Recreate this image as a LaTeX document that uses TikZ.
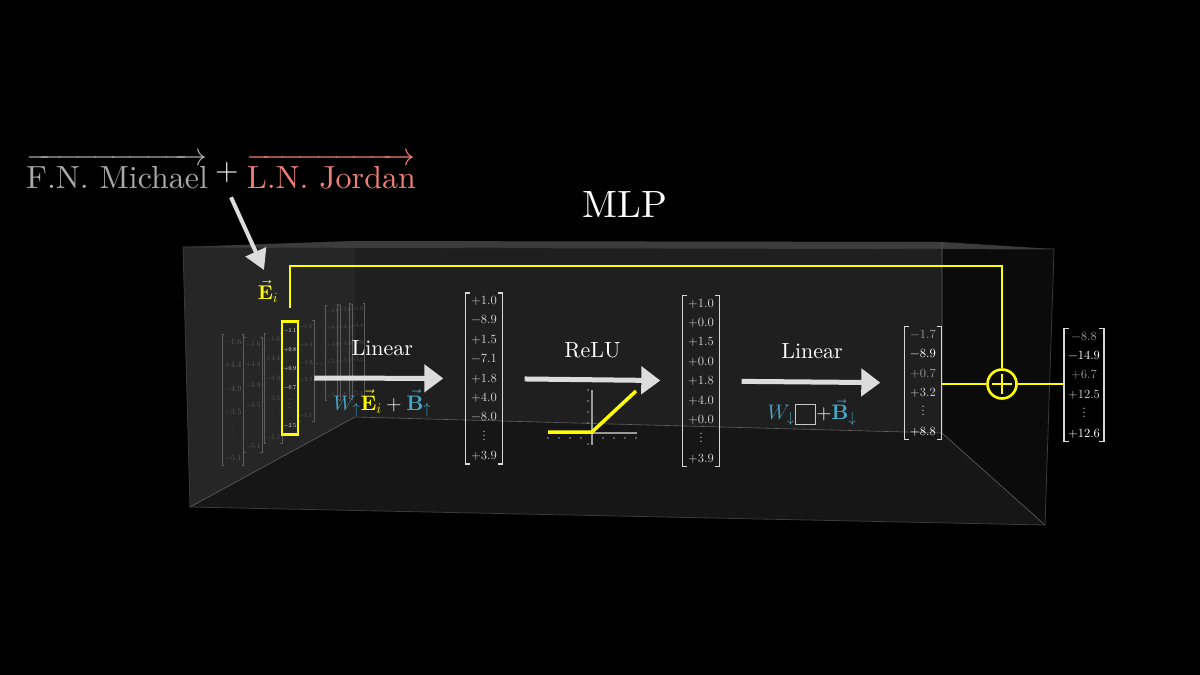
\RequirePackage{fix-cm}
\documentclass[tikz,border=0pt]{standalone}
\usepackage{amsmath,amssymb}
\usepackage{fontspec}
\setmainfont{lmroman10-regular}[Extension=.otf,BoldFont=lmroman10-bold,ItalicFont=lmroman10-italic]
\usetikzlibrary{arrows.meta,positioning}
\definecolor{ylw}{HTML}{FFFF00}
\definecolor{wblue}{HTML}{47A5C8}
\definecolor{salmon}{HTML}{EE7F76}
\definecolor{fngray}{HTML}{A9A9A9}
\definecolor{arrgray}{HTML}{DCDCDC}
\definecolor{numgray}{HTML}{D2D2D2}
\definecolor{numdim}{HTML}{9A9A9A}
\definecolor{brkgray}{HTML}{D8D8D8}
\definecolor{boxgray}{HTML}{C8C8C8}
\definecolor{faint}{HTML}{5C5C5C}
\definecolor{backwall}{HTML}{1F1F1F}
\definecolor{sidewall}{HTML}{262626}
\definecolor{floorc}{HTML}{161616}
\definecolor{rightwall}{HTML}{0B0B0B}
\definecolor{rim}{HTML}{3C3C3C}
\definecolor{edgec}{HTML}{3A3A3A}
\tikzset{bigarr/.style={-{Triangle[length=19pt,width=27pt]},line width=5pt,draw=arrgray},
 ptr/.style={-{Triangle[length=20pt,width=22pt]},line width=4pt,draw=arrgray},
 skipline/.style={draw=ylw,line width=2.6pt},
 vecnum/.style={align=center,inner xsep=4pt,inner ysep=3pt,minimum width=37pt,text=numgray,
  font=\fontsize{12.5}{19.4}\selectfont},
 brk/.style={draw=brkgray,line width=1.4pt},
 stkcol/.style={align=center,inner xsep=1.5pt,inner ysep=3pt,text=faint,font=\fontsize{6}{17}\selectfont},
 stkbrk/.style={draw=faint,line width=0.8pt},
 opname/.style={text=white,inner sep=0pt,font=\fontsize{22}{26}\selectfont},
 formula/.style={text=white,inner sep=0pt,font=\fontsize{21}{25}\selectfont},
 nametxt/.style={inner sep=0pt,font=\fontsize{32}{38}\selectfont},
 axisln/.style={draw=numdim,line width=1.2pt},
 tickdot/.style={fill=numdim},
 relu/.style={draw=ylw,line width=3.5pt}}
\newcommand\brackets[3]{%
 \draw[#3] ([xshift=#2]#1.north west) -- (#1.north west) -- (#1.south west) -- ([xshift=#2]#1.south west);
 \draw[#3] ([xshift=-#2]#1.north east) -- (#1.north east) -- (#1.south east) -- ([xshift=-#2]#1.south east);}

\begin{document}
\begin{tikzpicture}[x=1pt,y=-1pt]
\fill[black] (0,0) rectangle (1200,675);
\useasboundingbox (0,0) rectangle (1200,675);
% the box
\fill[backwall] (355,241) -- (942,242) -- (942,433) -- (355,417) -- cycle;
\fill[sidewall] (183,247) -- (355,241) -- (355,417) -- (190,507) -- cycle;
\fill[floorc] (190,507) -- (355,417) -- (942,433) -- (1045,525) -- cycle;
\fill[rightwall] (942,242) -- (1054,249) -- (1045,525) -- (942,433) -- cycle;
\fill[rim] (183,247) -- (355,241) -- (942,242) -- (1054,249) -- cycle;
\draw[edgec,line width=0.8pt] (183,247) -- (1054,249) -- (1045,525) -- (190,507) -- cycle;
\draw[edgec!80,line width=0.6pt] (190,507) -- (355,417) -- (942,433) -- (1045,525) (942,242) -- (942,433);

\node[nametxt,text=fngray,anchor=base west] (fn) at (26,188) {$\overrightarrow{\mbox{F.N. Michael}}$};
\node[nametxt,text=white,base right=7pt of fn] (plus) {\raisebox{8pt}{$+$}};
\node[nametxt,text=salmon,base right=8pt of plus] (ln) {$\overrightarrow{\mbox{L.N. Jordan}}$};
\node[text=white,font=\fontsize{38}{46}\selectfont] (mlp) at (625,205) {MLP};
\coordinate (eitip) at (264,270);
\draw[ptr,shorten <=10pt] (plus.south) -- (eitip);

% embedding stack
\foreach \cx/\cy/\s [count=\k] in {233/400/1.37,253/395/1.2,273/388/1.15,306/371/1.05,333/353/1,345/352/1,357/351/1}{
 \node[stkcol,scale=\s] (col\k) at (\cx,\cy) {−1.6\\+4.4\\−4.9\\−3.5\\$\vdots$\\−5.1};
 \brackets{col\k}{2pt}{stkbrk}}
\node[text=faint,inner sep=0pt] (sdots) at (318,364) {$\cdots$};
\node[stkcol,text=white,inner ysep=7pt,minimum width=16pt,draw=ylw,line width=2.5pt,
 font=\fontsize{6}{19}\selectfont] (ei) at (290,378) {−1.1\\+0.8\\+0.9\\−0.7\\$\vdots$\\−2.5};
\node[text=ylw,font=\fontsize{20}{24}\selectfont,inner sep=0pt] (eilbl) at (268,291) {$\vec{\mathbf{E}}_i$};

% vectors
\node[vecnum] (v1) at (484,378.5) {+1.0\\−8.9\\+1.5\\−7.1\\+1.8\\+4.0\\−8.0\\$\vdots$\\+3.9};
\brackets{v1}{5pt}{brk}
\node[vecnum] (v2) at (701,381) {+1.0\\+0.0\\+1.5\\+0.0\\+1.8\\+4.0\\+0.0\\$\vdots$\\+3.9};
\brackets{v2}{5pt}{brk}
\node[vecnum] (v3) at (923,383) {\color{numdim}−1.7\\\color{white}−8.9\\\color{numdim}+0.7\\+3.2\\$\vdots$\\\color{white}+8.8};
\brackets{v3}{5pt}{brk}
\node[vecnum] (v4) at (1084,385) {\color{numdim}−8.8\\\color{white}−14.9\\\color{numdim}+6.7\\+12.5\\$\vdots$\\\color{white}+12.6};
\brackets{v4}{5pt}{brk}

\draw[bigarr,shorten <=15pt,shorten >=22pt] (ei) -- node[above=20pt,opname]{Linear}
 node[below=9pt,formula]{$\textcolor{wblue}{W_{\uparrow}}\textcolor{ylw}{\vec{\mathbf{E}}_i}+\textcolor{wblue}{\vec{\mathbf{B}}_{\uparrow}}$} (v1);
\draw[bigarr,shorten <=22pt,shorten >=22pt] (v1) -- node[above=19pt,opname]{ReLU} (v2);
\draw[bigarr,shorten <=22pt,shorten >=24pt] (v2) -- node[above=21pt,opname]{Linear}
 node[below=15pt,formula]{$\textcolor{wblue}{W_{\downarrow}}\raisebox{-4pt}{\setlength\fboxsep{0pt}\setlength\fboxrule{1.3pt}\color{boxgray}\fbox{\rule{19pt}{0pt}\rule{0pt}{19pt}}}{+}\textcolor{wblue}{\vec{\mathbf{B}}_{\downarrow}}$} (v3);

% relu plot
\draw[axisln] (548,433) -- (637,433);
\draw[axisln] (592,390) -- (592,445);
\foreach \x in {548,559,570,581,603,614,625,636} \fill[tickdot] (\x,438) circle (0.9pt);
\foreach \y in {390,401,412,423,444} \fill[tickdot] (588,\y) circle (0.9pt);
\draw[relu] (548,432) -- (592,432) -- (636,391);

% residual path
\node[circle,draw=ylw,line width=2.6pt,minimum size=29pt,inner sep=0pt] (sum) at (1002,384) {};
\draw[skipline] (sum.center) ++(0,-10) -- ++(0,20) (sum.center) ++(-10,0) -- ++(20,0);
\draw[skipline,shorten <=12pt] (ei.north) -- ++(0,-54) -| (sum.north);
\draw[skipline] (sum.west) -- (sum.west -| v3.east);
\draw[skipline] (sum.east) -- (sum.east -| v4.west);
\end{tikzpicture}
\end{document}
